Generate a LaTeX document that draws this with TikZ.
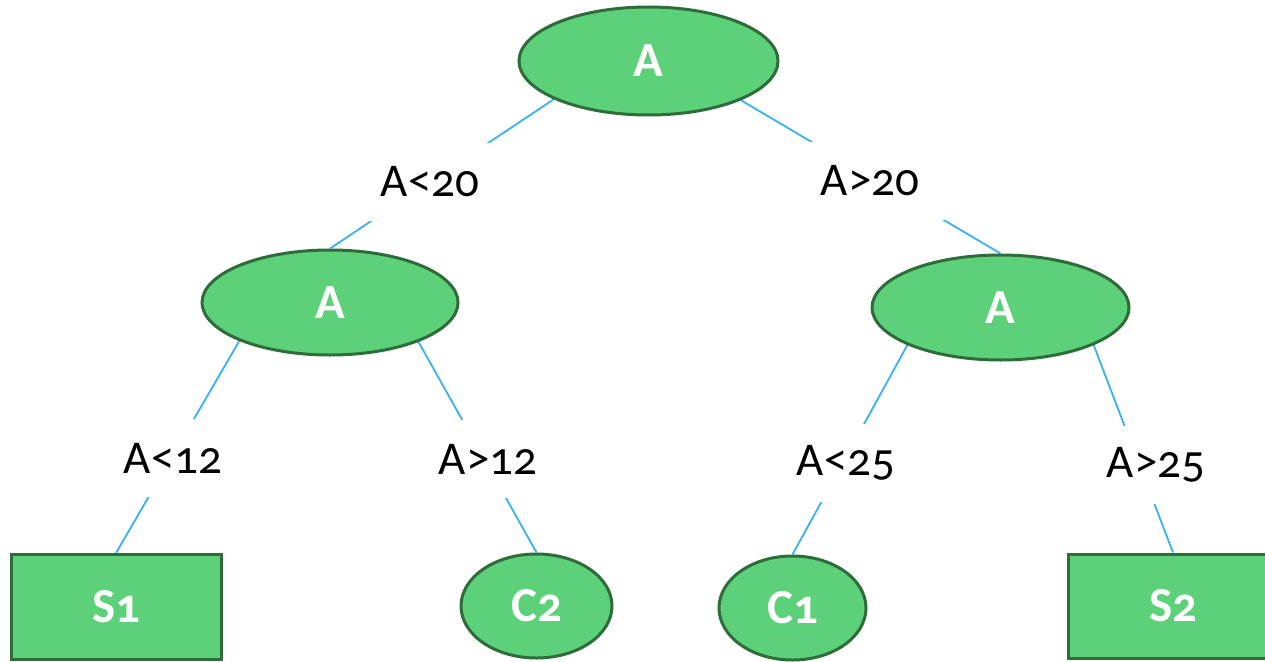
\documentclass[tikz,border=0pt]{standalone}
\usepackage{fontspec}
\setmainfont{Carlito}[Numbers=OldStyle]
\usetikzlibrary{shapes.geometric,backgrounds}
\definecolor{nodefill}{RGB}{92,209,122}
\definecolor{nodeedge}{RGB}{46,108,58}
\definecolor{linkcol}{RGB}{55,178,242}
\tikzset{
  treenode/.style={draw=nodeedge, line width=3pt, fill=nodefill, text=white,
    font=\fontsize{49}{55}\selectfont\bfseries, inner sep=0pt},
  ovalnode/.style={treenode, ellipse},
  boxnode/.style={treenode, rectangle},
  condlabel/.style={fill=white, inner sep=0pt, minimum width=160pt, minimum height=78pt,
    font=\fontsize{47}{52}\selectfont, text=black},
  link/.style={draw=linkcol, line width=1.8pt}
}
\begin{document}
\begin{tikzpicture}[x=1pt,y=-1pt]
\useasboundingbox (0,0) rectangle (1265,661);
% nodes
\node[ovalnode, minimum width=259pt, minimum height=108pt] (root) at (648.5,61) {A};
\node[ovalnode, minimum width=256pt, minimum height=105pt] (midL) at (330,302.5) {A};
\node[ovalnode, minimum width=257pt, minimum height=105pt] (midR) at (1000.5,307.5) {A};
\node[boxnode, minimum width=210pt, minimum height=105pt] (s1) at (116,607) {S1};
\node[ovalnode, minimum width=151pt, minimum height=104pt] (c2) at (536.5,606) {C2};
\node[ovalnode, minimum width=147pt, minimum height=104pt] (c1) at (792.5,608) {C1};
\node[boxnode, minimum width=210pt, minimum height=104pt] (s2) at (1173,606) {S2};
% connectors (behind nodes)
\begin{pgfonlayer}{background}
\draw[link] (root.202) -- (midL.north);
\draw[link] (root.337.5) -- (midR.north);
\draw[link] (midL.203.5) -- (s1.north);
\draw[link] (midL.336.5) -- (c2.north);
\draw[link] (midR.202) -- (c1.north);
\draw[link] (midR.338) -- (s2.north);
\end{pgfonlayer}
% condition labels
\node[condlabel] (l20) at (430,182) {A<20};
\node[condlabel] (g20) at (870,181) {A>20};
\node[condlabel] (l12) at (173,458) {A<12};
\node[condlabel] (g12) at (488,459) {A>12};
\node[condlabel] (l25) at (846,463) {A<25};
\node[condlabel] (g25) at (1156,465) {A>25};
\end{tikzpicture}
\end{document}
